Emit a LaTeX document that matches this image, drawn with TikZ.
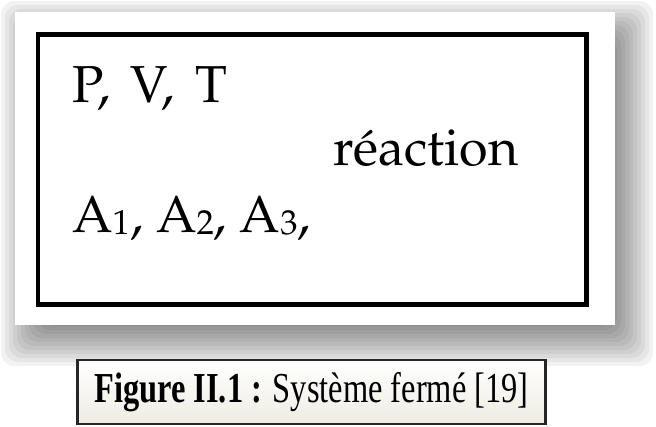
\documentclass[tikz,border=0pt]{standalone}
\usepackage[T1]{fontenc}
\usepackage{fontspec}
\usepackage{graphicx}
\usetikzlibrary{positioning}
\newfontfamily\capfont{Liberation Serif}
\newcommand\palfont{\fontencoding{T1}\fontfamily{ppl}\selectfont}
\newcommand\sub[1]{\raisebox{-1.5pt}{\fontsize{26}{26}\selectfont #1}}
\definecolor{CapBeige}{HTML}{EEECE1}
\definecolor{CapEdge}{HTML}{262626}

\begin{document}
\begin{tikzpicture}[x=0.75pt,y=-0.75pt,
        frame/.style={draw=black,line width=3.5pt},
        shd/.style={fill=black,opacity=.05,rounded corners=10pt},
        lbl/.style={anchor=base west,inner sep=0pt,font=\palfont\fontsize{39}{44}\selectfont},
        capbox/.style={draw=CapEdge,line width=1.6pt,top color=white,bottom color=CapBeige,minimum width=351pt,minimum height=48pt,inner sep=0pt}]
        \useasboundingbox (0,0) rectangle (656,426);
        % soft shadow behind the sheet
        \foreach \e in {-22,-18,...,26} \fill[shd] ({27-(\e)},{27-(\e)}) rectangle ({627+\e},{340+\e});
        \fill[white] (15,12) rectangle (615,325);
        \draw[frame] (38,34.5) rectangle (586.5,304.5);
        \node[lbl] (pvt) at (72,102) {P,\hspace{0.4em}V,\hspace{0.4em}T}; \node[lbl] (reac) at (333,165) {r\'eaction};
        \node[lbl] (species) at (72,232) {A\sub{1}, A\sub{2}, A\sub{3},};
        \node[capbox] (caption) at (311.5,392) {\scalebox{0.76}[1]{\capfont\fontsize{32}{36}\selectfont\textbf{Figure II.1 :} Système fermé [19]}};
      \end{tikzpicture}
\end{document}
